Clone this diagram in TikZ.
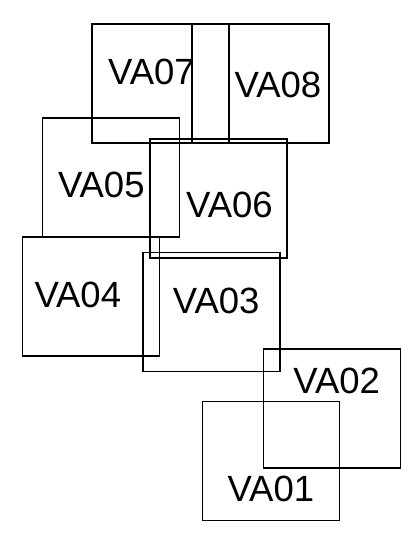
\documentclass[tikz,border=0pt]{standalone}
\usepackage{fontspec}
\setmainfont{Liberation Sans}
\begin{document}
\begin{tikzpicture}[x=1pt,y=-1pt,
  box/.style={draw=black,line width=1.5pt,inner sep=0pt,outer sep=0pt,
    minimum width=137pt,minimum height=119pt},
  lbl/.style={anchor=base,inner sep=0pt,font=\fontsize{36.5}{40}\selectfont}]
\useasboundingbox (0,0) rectangle (403,539);
% boxes
\node[box] (b07) at (160.3,83.3) {};
\node[box] (b08) at (260.7,83.3) {};
\node[box] (b05) at (111.2,177.4) {};
\node[box] (b06) at (218.5,198.5) {};
\node[box] (b04) at (90.8,296.7) {};
\node[box] (b03) at (211.7,312.2) {};
\node[box] (b02) at (332,408.7) {};
\node[box] (b01) at (270.8,461.2) {};
% labels
\node[lbl] (t07) at (151.5,84) {VA07};
\node[lbl] (t08) at (278,97) {VA08};
\node[lbl] (t05) at (101.3,197.3) {VA05};
\node[lbl] (t06) at (229.5,217.3) {VA06};
\node[lbl] (t04) at (77.8,307.3) {VA04};
\node[lbl] (t03) at (216.2,313.3) {VA03};
\node[lbl] (t02) at (336.7,393.3) {VA02};
\node[lbl] (t01) at (270.8,501.7) {VA01};
\end{tikzpicture}
\end{document}
